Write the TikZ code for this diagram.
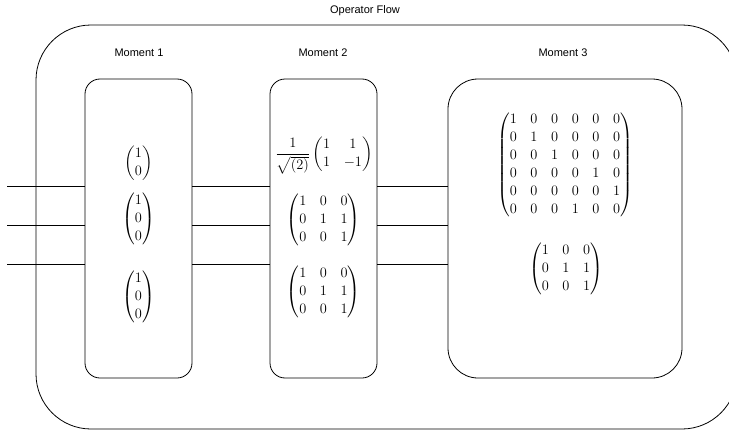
\documentclass[tikz,border=0pt]{standalone}
\usepackage{amsmath}
\usepackage{fontspec}
\newfontfamily\labfont{Liberation Sans}
\tikzset{
  lab/.style={font=\labfont\fontsize{11}{13}\selectfont, inner sep=0pt},
  frame/.style={draw, line width=0.8pt, minimum height=299pt, inner sep=0pt},
  mat/.style={inner sep=0pt, font=\fontsize{14}{18}\selectfont},
  wire/.style={line width=0.8pt}
}
\newcommand{\mymat}[1]{\setlength\arraycolsep{6.8pt}$\begin{pmatrix}#1\end{pmatrix}$}
\begin{document}
\begin{tikzpicture}[x=1pt,y=-1pt]
\clip (0,0) rectangle (729,431);
\fill[white] (0,0) rectangle (729,431);
% outer box
\node[draw, line width=0.8pt, rounded corners=55pt, minimum width=701pt, minimum height=404pt, inner sep=0pt] (outer) at (386.5,227) {};
\node[lab] (title) at (365,11) {Operator Flow};
% moments
\node[frame, rounded corners=15pt, minimum width=107pt] (b1) at (138.5,228.5) {};
\node[frame, rounded corners=15pt, minimum width=107pt] (b2) at (323.5,228.5) {};
\node[frame, rounded corners=30pt, minimum width=234pt] (b3) at (565,228.5) {};
\node[lab] (l1) at (139,53) {Moment 1};
\node[lab] (l2) at (323,53) {Moment 2};
\node[lab] (l3) at (563,53) {Moment 3};
% wires
\coordinate (w1) at (7,186);
\coordinate (w2) at (7,225);
\coordinate (w3) at (7,264);
\foreach \w in {w1,w2,w3}{
  \draw[wire] (\w) -- (\w -| b1.west);
  \draw[wire] (\w -| b1.east) -- (\w -| b2.west);
  \draw[wire] (\w -| b2.east) -- (\w -| b3.west);
}
% moment 1 contents
\node[mat] (v1) at (138.5,163) {\mymat{1\\0}};
\node[mat] (v2) at (138.5,219) {\mymat{1\\0\\0}};
\node[mat] (v3) at (138.5,297) {\mymat{1\\0\\0}};
% moment 2 contents
\node[mat] (h) at (324,155) {$\dfrac{1}{\sqrt{(2)}}$\,\mymat{1 & 1\\1 & -1}};
\node[mat] (c1) at (323.5,220) {\mymat{1 & 0 & 0\\0 & 1 & 1\\0 & 0 & 1}};
\node[mat] (c2) at (323.5,292) {\mymat{1 & 0 & 0\\0 & 1 & 1\\0 & 0 & 1}};
% moment 3 contents
\node[mat] (p) at (565,165) {\mymat{1&0&0&0&0&0\\0&1&0&0&0&0\\0&0&1&0&0&0\\0&0&0&0&1&0\\0&0&0&0&0&1\\0&0&0&1&0&0}};
\node[mat] (c3) at (566,269) {\mymat{1 & 0 & 0\\0 & 1 & 1\\0 & 0 & 1}};
\end{tikzpicture}
\end{document}
